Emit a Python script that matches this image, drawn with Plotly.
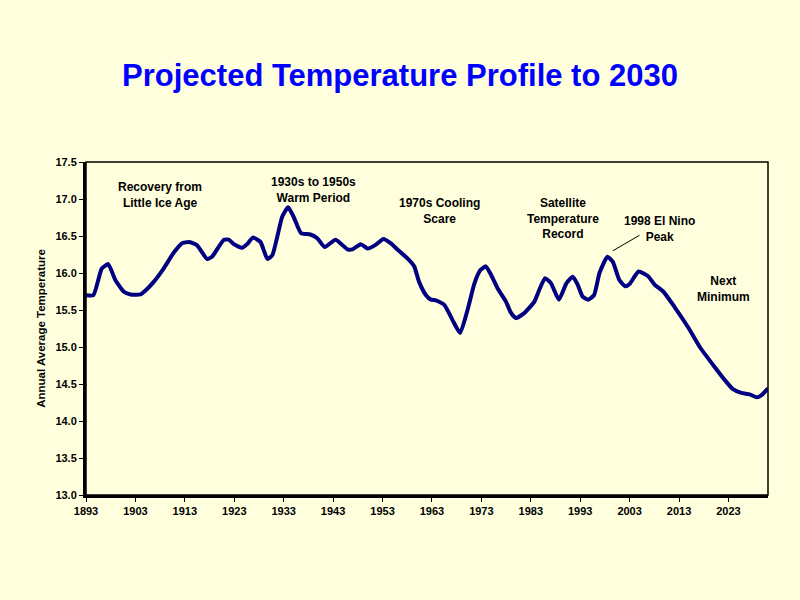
import plotly.graph_objects as go

years = [1893, 1894.5, 1896.2, 1897.5, 1898.9, 1900.6, 1902, 1904, 1905, 1906.7, 1908.7,
         1910.7, 1912.4, 1913.8, 1915.4, 1917.5, 1918.5, 1920.9, 1921.9, 1922.9, 1924.6,
         1925.6, 1926.8, 1928.3, 1929.7, 1930.7, 1931.7, 1932.7, 1933.9, 1935, 1936.5,
         1938.4, 1939.8, 1941.3, 1943.5, 1945.9, 1946.9, 1948.6, 1950, 1951.6, 1953.2,
         1954.7, 1956.3, 1958, 1959.4, 1960.4, 1961.8, 1962.8, 1963.8, 1965.5, 1967.2,
         1968.7, 1970.2, 1971.6, 1972.8, 1973.9, 1975, 1976.3, 1978, 1979, 1980, 1981.7,
         1983.7, 1984.7, 1985.9, 1987.1, 1988.7, 1990.2, 1991.5, 1992.5, 1993.5, 1994.6,
         1995.8, 1996.9, 1998.5, 1999.6, 2000.9, 2002.1, 2003, 2004.8, 2006.7, 2008.1,
         2009.8, 2012.1, 2014.8, 2017.2, 2020.2, 2022.3, 2023.9, 2025.6, 2027.3, 2028.7,
         2029.7, 2031]
temps = [15.70, 15.70, 16.06, 16.12, 15.91, 15.75, 15.71, 15.71, 15.76, 15.88, 16.06,
         16.27, 16.40, 16.42, 16.38, 16.19, 16.22, 16.45, 16.45, 16.39, 16.34,
         16.39, 16.48, 16.42, 16.19, 16.24, 16.49, 16.76, 16.89, 16.76, 16.54,
         16.52, 16.47, 16.35, 16.45, 16.32, 16.32, 16.39, 16.33, 16.38, 16.46,
         16.40, 16.30, 16.20, 16.09, 15.88, 15.70, 15.64, 15.63, 15.57, 15.36,
         15.19, 15.50, 15.86, 16.04, 16.09, 15.97, 15.79, 15.61, 15.46, 15.39, 15.46,
         15.61, 15.77, 15.93, 15.86, 15.64, 15.86, 15.95, 15.84, 15.68, 15.64,
         15.70, 16.00, 16.22, 16.15, 15.91, 15.82, 15.85, 16.02, 15.96, 15.84,
         15.75, 15.54, 15.27, 15.00, 14.73, 14.55, 14.43, 14.38, 14.36, 14.32,
         14.35, 14.44]

x_ticks = [1893, 1903, 1913, 1923, 1933, 1943, 1953, 1963, 1973, 1983, 1993, 2003, 2013, 2023]
y_ticks = [13.0, 13.5, 14.0, 14.5, 15.0, 15.5, 16.0, 16.5, 17.0, 17.5]

notes = [
    ("Recovery from<br>Little Ice Age", 1908, 17.06),
    ("1930s to 1950s<br>Warm Period", 1939, 17.12),
    ("1970s Cooling<br>Scare", 1964.5, 16.84),
    ("Satellite<br>Temperature<br>Record", 1989.5, 16.73),
    ("1998 El Nino<br>Peak", 2009.1, 16.60),
    ("Next<br>Minimum", 2021.9, 15.78),
]

FONT = "Arial, Liberation Sans, sans-serif"
BG = "#FFFFDD"

fig = go.Figure()
fig.add_trace(go.Scatter(
    x=years, y=temps, mode="lines",
    line=dict(color="#000080", width=4, shape="spline", smoothing=0.5),
    hoverinfo="skip", showlegend=False,
))

for text, xv, yv in notes:
    fig.add_annotation(x=xv, y=yv, text="<b>" + text + "</b>", showarrow=False,
                       font=dict(family=FONT, size=12, color="black"),
                       xref="x", yref="y", align="center")

# pointer line for El Nino annotation
fig.add_shape(type="line", xref="x", yref="y", x0=1999.6, y0=16.30, x1=2005.0, y1=16.51,
              line=dict(color="black", width=1))

# thin frame (top / right)
fig.add_shape(type="rect", xref="paper", yref="paper", x0=0, y0=0, x1=1, y1=1,
              line=dict(color="black", width=1.5), layer="above")

fig.update_layout(
    width=800, height=600,
    paper_bgcolor=BG, plot_bgcolor=BG,
    margin=dict(l=86, r=32, t=162, b=105),
    title=dict(text="<b>Projected Temperature Profile to 2030</b>",
               x=0.5, xref="container", xanchor="center", y=1 - 75 / 600, yanchor="middle",
               font=dict(family=FONT, size=31, color="#0000FF")),
    font=dict(family=FONT, size=11, color="black"),
    showlegend=False,
)
fig.update_xaxes(
    range=[1893, 2031], tickvals=x_ticks,
    ticktext=["<b>%d</b>" % v for v in x_ticks],
    showgrid=False, zeroline=False,
    showline=True, linecolor="black", linewidth=3,
    ticks="outside", ticklen=4, tickcolor="black", tickwidth=1,
    tickfont=dict(family=FONT, size=11, color="black"),
)
fig.update_yaxes(
    range=[13.0, 17.5], tickvals=y_ticks,
    ticktext=["<b>%.1f</b>" % v for v in y_ticks],
    showgrid=False, zeroline=False,
    showline=True, linecolor="black", linewidth=3,
    ticks="outside", ticklen=4, tickcolor="black", tickwidth=1,
    tickfont=dict(family=FONT, size=11, color="black"),
    title=dict(text="<b>Annual Average Temperature</b>",
               font=dict(family=FONT, size=11.5, color="black"), standoff=8),
)

fig.write_html("out.html", config={"displayModeBar": False},
               post_script="document.body.style.margin='0';"
                           "document.body.style.background='" + BG + "';")
